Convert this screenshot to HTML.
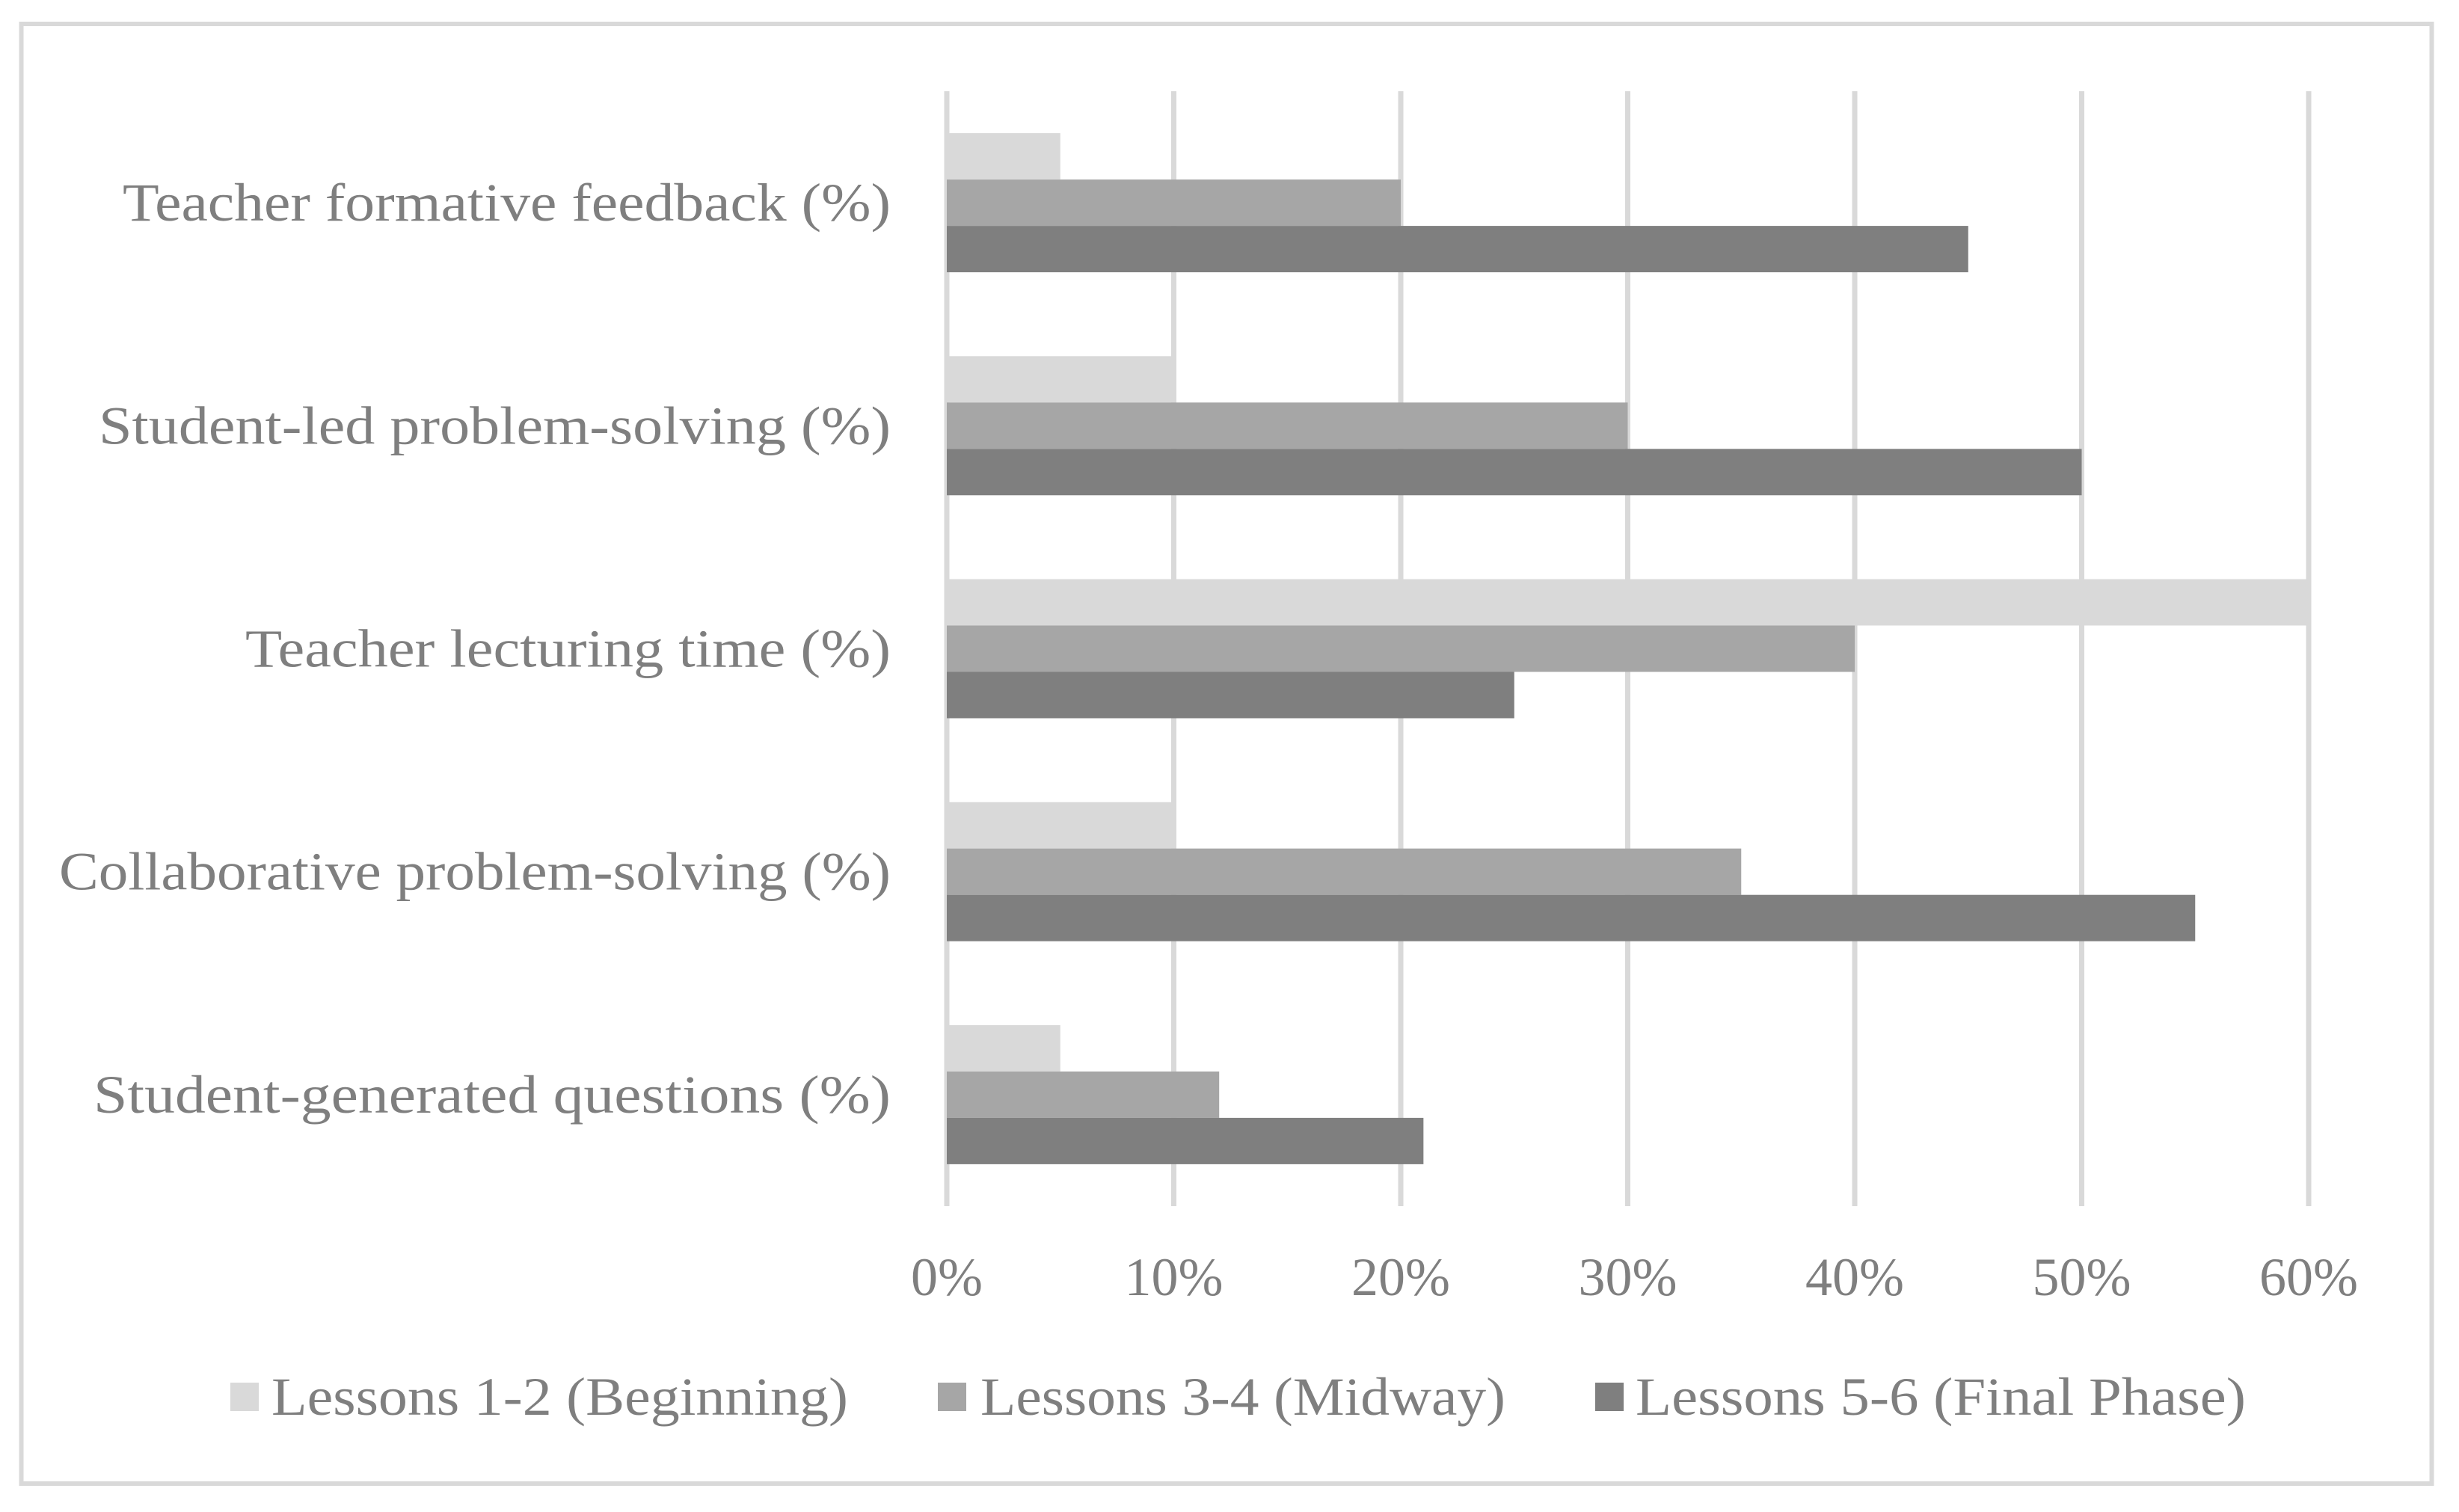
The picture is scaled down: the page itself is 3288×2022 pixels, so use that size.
<!DOCTYPE html>
<html><head><meta charset="utf-8"><style>
html,body{margin:0;padding:0;background:#fff;}
svg{display:block;}
text{font-family:"Liberation Serif",serif;fill:#7f7f7f;}
</style></head><body>
<svg id="chart" width="3288" height="2022" viewBox="0 0 3288 2022" xmlns="http://www.w3.org/2000/svg">
<rect x="28.5" y="32" width="3223" height="1952" fill="#fff" stroke="#d9d9d9" stroke-width="6"/>
<g id="grid"></g><g id="bars"></g><g id="labels"></g><g id="ticks"></g><g id="legend"></g>
</svg>
<script>
const categories = ["Teacher formative feedback (%)","Student-led problem-solving (%)","Teacher lecturing time (%)","Collaborative problem-solving (%)","Student-generated questions (%)"];
const catWidths = [1027,1059,863,1112,1066];
const seriesNames = ["Lessons 1-2 (Beginning)","Lessons 3-4 (Midway)","Lessons 5-6 (Final Phase)"];
const series1 = [5,10,60,10,5];
const series2 = [20,30,40,35,12];
const series3 = [45,50,25,55,21];
const ticks = [0,10,20,30,40,50,60];
const tickLabels = ["0%","10%","20%","30%","40%","50%","60%"];
const colors = ["#d9d9d9","#a6a6a6","#7f7f7f"];
const NS="http://www.w3.org/2000/svg";
const x0=1266, xMax=3087, plotTop=122, plotBot=1613;
const xs=v=>x0+(v/60)*(xMax-x0);
const band=(plotBot-plotTop)/categories.length;
const barH=62;
function mk(t,a,p){const e=document.createElementNS(NS,t);for(const k in a)e.setAttribute(k,a[k]);p.appendChild(e);return e;}
const grid=document.getElementById('grid');
ticks.forEach((t,i)=>{
  const l=mk('line',{x1:xs(t),x2:xs(t),y1:plotTop,y2:plotBot,stroke:'#d9d9d9','stroke-width':7},grid);
  
  
  const tx=mk('text',{x:xs(t),y:1732,'text-anchor':'middle','font-size':72},document.getElementById('ticks'));
  tx.textContent=tickLabels[i];
  
  
});
const all=[series1,series2,series3];
categories.forEach((c,i)=>{
  const cy=plotTop+band*(i+0.5);
  const top=cy-barH*1.5;
  all.forEach((s,j)=>{
    const r=mk('rect',{x:x0,y:top+j*barH,width:xs(s[i])-x0,height:barH,fill:colors[j]},document.getElementById('bars'));
    
    
  });
  const t=mk('text',{x:1191,y:cy+24,'text-anchor':'end','font-size':72,textLength:catWidths[i],lengthAdjust:'spacingAndGlyphs'},document.getElementById('labels'));
  t.textContent=c;
  
  
});
const lg=document.getElementById('legend');
const sw=[308,1254,2133], tx=[363,1311,2187], tw=[771,702,816];
seriesNames.forEach((n,j)=>{
  const r=mk('rect',{x:sw[j],y:1849,width:38,height:38,fill:colors[j]},lg);
  
  
  const t=mk('text',{x:tx[j],y:1892,'font-size':72,textLength:tw[j],lengthAdjust:'spacingAndGlyphs'},lg);
  t.textContent=n;
  
  
});
</script>
</body></html>
